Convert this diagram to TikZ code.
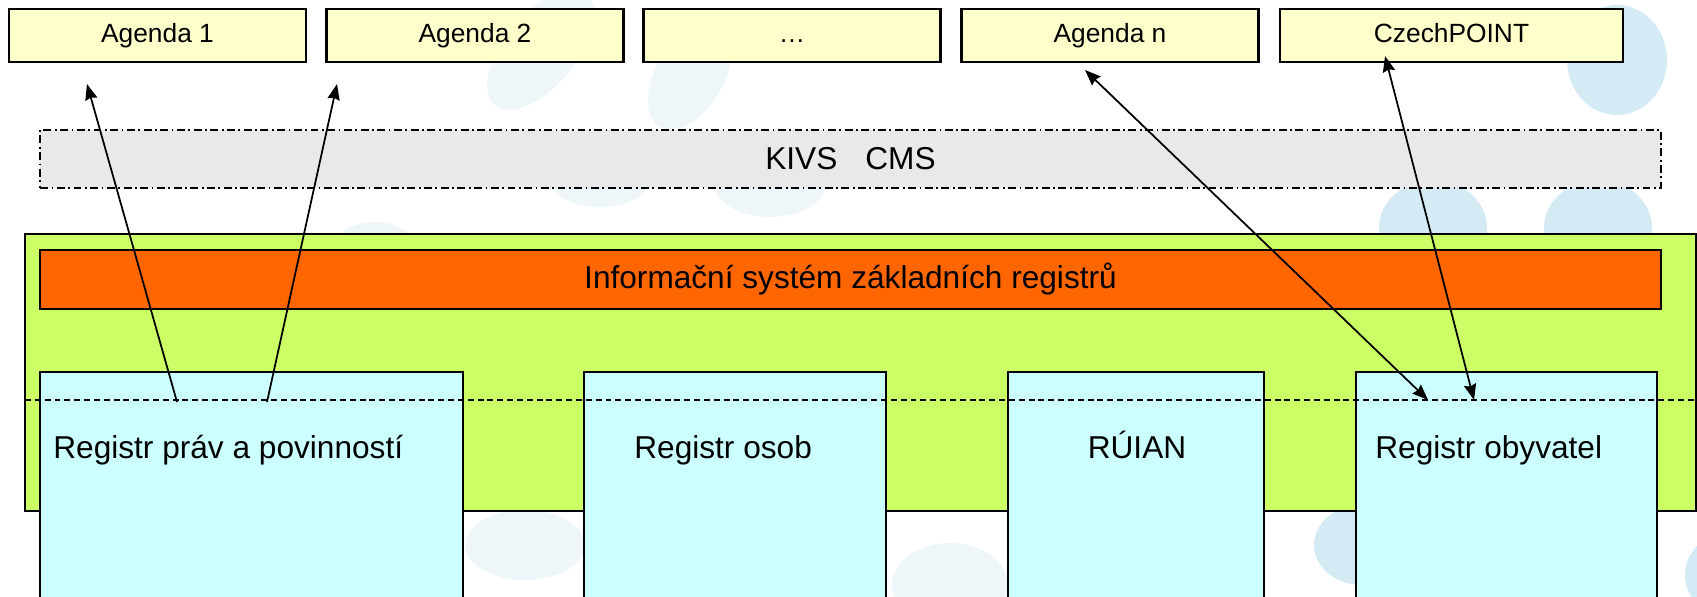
\documentclass[tikz,border=0pt]{standalone}
\usepackage{fontspec}
\setmainfont{Liberation Sans}
\usetikzlibrary{positioning, arrows.meta}
\definecolor{agenda_yellow}{RGB}{255,255,204}
\definecolor{kivs_grey}{RGB}{233,233,233}
\definecolor{iszr_green}{RGB}{204,255,102}
\definecolor{iszr_orange}{RGB}{255,102,0}
\definecolor{reg_cyan}{RGB}{204,255,255}
\definecolor{bubble_blue}{RGB}{212,234,244}
\definecolor{bubble_pale}{RGB}{239,246,250}

\begin{document}
\begin{tikzpicture}[x=0.02cm, y=-0.02cm, >={Stealth[length=9pt, width=7pt, inset=1pt]},
      agenda/.style={draw, line width=1.2pt, fill=agenda_yellow, inner sep=0pt, minimum width=5.94cm,
        minimum height=1.06cm, text height=10.6pt, text depth=2.6pt, font=\fontsize{15}{18}\selectfont},
      network/.style={draw, line width=0.9pt, dash pattern=on 4.5pt off 2pt on 1pt off 2pt, fill=kivs_grey,
        inner sep=0pt, minimum width=32.42cm, minimum height=1.16cm, font=\fontsize{18}{22}\selectfont},
      iszr/.style={draw, line width=1.3pt, fill=iszr_green, inner sep=0pt, minimum width=33.42cm, minimum height=5.54cm},
      core/.style={draw, line width=1pt, fill=iszr_orange, inner sep=0pt, minimum width=32.42cm,
        minimum height=1.18cm, font=\fontsize{18}{22}\selectfont},
      register/.style={draw, line width=0.8pt, fill=reg_cyan, inner sep=0pt, minimum height=4.96cm},
      reglabel/.style={anchor=base west, inner sep=0pt, font=\fontsize{18}{22}\selectfont},
      bubble/.style={fill=bubble_blue},
      pale/.style={fill=bubble_pale},
      link/.style={line width=1pt}]
    \useasboundingbox (0,0) rectangle (1697,597);
    % background bubbles
    \fill[bubble] (1617,60) ellipse [x radius=50, y radius=55];
    \fill[bubble] (1433,228) ellipse [x radius=54, y radius=48];
    \fill[bubble] (1598,228) ellipse [x radius=54, y radius=48];
    \fill[bubble] (1362,545) ellipse [x radius=48, y radius=40];
    \fill[bubble] (1735,575) ellipse [x radius=50, y radius=45];
    \fill[pale, rotate around={50:(541,50)}] (541,50) ellipse [x radius=72, y radius=36];
    \fill[pale, rotate around={60:(690,75)}] (690,75) ellipse [x radius=60, y radius=34];
    \fill[pale] (600,180) ellipse [x radius=50, y radius=27];
    \fill[pale] (770,185) ellipse [x radius=55, y radius=32];
    \fill[pale] (375,250) ellipse [x radius=42, y radius=28];
    \fill[pale] (525,545) ellipse [x radius=60, y radius=35];
    \fill[pale] (950,585) ellipse [x radius=58, y radius=42];

    \node[agenda] (ag1) at (157.5,35.5) {Agenda 1};
    \node[agenda] (ag2) at (475,35.5)   {Agenda 2};
    \node[agenda] (agx) at (792,35.5)   {…};
    \node[agenda] (agn) at (1110,35.5)  {Agenda n};
    \node[agenda, minimum width=6.86cm] (cpt) at (1451.5,35.5) {CzechPOINT};

    \node[network] (kivs) at (850.5,159) {KIVS\hspace{0.56cm}CMS};

    \node[iszr] (zr) at (860.5,372.5) {};
    \node[core] (iszr) at (850.5,279.5) {Informační systém základních registrů};

    \node[register, minimum width=8.46cm] (rpp) at (251.5,496) {};
    \node[register, minimum width=6.04cm] (ros) at (735,496)   {};
    \node[register, minimum width=5.12cm] (rui) at (1136,496)  {};
    \node[register, minimum width=6.02cm] (rob) at (1506.5,496) {};
    \node[reglabel] (rpp_t) at (53,459)   {Registr práv a povinností};
    \node[reglabel] (ros_t) at (634,459)  {Registr osob};
    \node[reglabel, anchor=base] (rui_t) at (1137,459) {RÚIAN};
    \node[reglabel] (rob_t) at (1375,459) {Registr obyvatel};

    \coordinate (dl) at (25,400);
    \coordinate (dr) at (1697,400);
    \draw[line width=0.8pt, dash pattern=on 3.4pt off 2.2pt] (dl) -- (dr);

    \coordinate (t1) at (177,402);  \coordinate (h1) at (87,84);
    \coordinate (t2) at (267,402);  \coordinate (h2) at (337,84);
    \coordinate (t3) at (1428,400); \coordinate (h3) at (1085,70);
    \coordinate (t4) at (1474,400); \coordinate (h4) at (1385,56);
    \draw[link, ->] (t1) -- (h1);
    \draw[link, ->] (t2) -- (h2);
    \draw[link, <->] (t3) -- (h3);
    \draw[link, <->] (t4) -- (h4);
  \end{tikzpicture}
\end{document}
